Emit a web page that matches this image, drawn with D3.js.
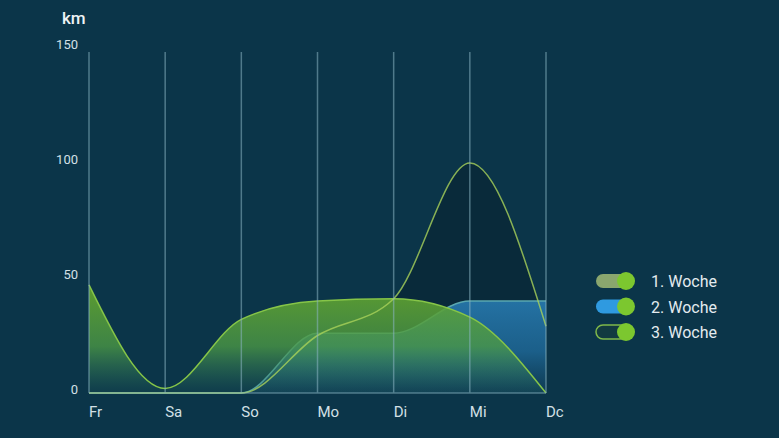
<!DOCTYPE html>
<html>
<head>
<meta charset="utf-8">
<script src="https://cdn.jsdelivr.net/npm/d3@7"></script>
<style>
  html, body { margin: 0; padding: 0; background: #0b3549; }
  svg { display: block; font-family: Roboto, "Noto Sans", sans-serif; }
</style>
</head>
<body>
<svg id="chart" width="779" height="438"></svg>
<script>
var days = ['Fr', 'Sa', 'So', 'Mo', 'Di', 'Mi', 'Dc'];
var woche1 = [47, 2, 32, 40, 41, 33, 0];
var woche2 = [0, 0, 0, 26, 26, 40, 40];
var woche3 = [0, 0, 0, 25, 41, 100, 29];
var yTicks = [0, 50, 100, 150];
var legendNames = ['1. Woche', '2. Woche', '3. Woche'];

var svg = d3.select('#chart');
var defs = svg.append('defs');

var x = d3.scalePoint().domain(days).range([89, 546]);
var y = d3.scaleLinear().domain([0, 150]).range([393, 48]);

function grad(id, stops)
{
	var g = defs.append('linearGradient')
		.attr('id', id)
		.attr('gradientUnits', 'userSpaceOnUse')
		.attr('x1', 0).attr('x2', 0)
		.attr('y1', y(45)).attr('y2', y(0));
	stops.forEach(function(s) {
		g.append('stop').attr('offset', s[0]).attr('stop-color', s[1]).attr('stop-opacity', s[2]);
	});
}
grad('g1', [[0, '#62a42e', 0.92], [0.55, '#4c9a45', 0.78], [1, '#2f7a60', 0.1]]);
grad('g2', [[0, '#2a7fb6', 1], [0.6, '#1f6a9a', 0.92], [1, '#124662', 0.7]]);

var area = d3.area()
	.x(function(d, i) { return x(days[i]); })
	.y0(y(0))
	.y1(function(d) { return y(d); })
	.curve(d3.curveMonotoneX);
var line = area.lineY1();

svg.append('path').datum(woche3).attr('d', area).attr('fill', '#0a2736').attr('fill-opacity', 0.75);

svg.append('path').datum(woche2).attr('d', area).attr('fill', 'url(#g2)').attr('opacity', 0.9);
svg.append('path').datum(woche2).attr('d', line)
	.attr('fill', 'none').attr('stroke', '#5aa8b0').attr('stroke-width', 1.5);

svg.append('path').datum(woche1).attr('d', area).attr('fill', 'url(#g1)');
svg.append('path').datum(woche1).attr('d', line)
	.attr('fill', 'none').attr('stroke', '#86c548').attr('stroke-width', 1.5);

// woche 3 only as outline, a bit faded where it crosses the other areas
svg.append('path').datum(woche3).attr('d', line)
	.attr('fill', 'none').attr('stroke', '#a9d25a').attr('stroke-width', 1.5)
	.attr('stroke-opacity', 0.8);

// grid on top of the areas
var grid = svg.append('g').attr('opacity', 0.55);
grid.selectAll('line')
	.data(days)
	.enter()
	.append('line')
		.attr('x1', function(d) { return x(d); })
		.attr('x2', function(d) { return x(d); })
		.attr('y1', 52)
		.attr('y2', y(0))
		.attr('stroke', '#8ab4c2')
		.attr('stroke-width', 1.5);
grid.append('line')
	.attr('x1', x('Fr')).attr('x2', x('Dc'))
	.attr('y1', y(0)).attr('y2', y(0))
	.attr('stroke', '#8ab4c2')
	.attr('stroke-width', 1.5);

// axes text
svg.append('g')
	.selectAll('text')
	.data(days)
	.enter()
	.append('text')
		.attr('x', function(d) { return x(d); })
		.attr('y', 417)
		.attr('fill', '#d3e0e6')
		.attr('font-size', 15)
		.text(function(d) { return d; });

svg.append('g')
	.selectAll('text')
	.data(yTicks)
	.enter()
	.append('text')
		.attr('x', 78)
		.attr('y', function(d) { return y(d) + 1; })
		.attr('text-anchor', 'end')
		.attr('fill', '#d3e0e6')
		.attr('font-size', 13)
		.text(function(d) { return d; });

svg.append('text')
	.attr('x', 62).attr('y', 24)
	.attr('fill', '#eef3f5')
	.attr('font-size', 17)
	.attr('font-weight', 500)
	.text('km');

// legend
var trackFill = ['#8aa66e', '#2f9ae0', '#123a40'];
var trackStroke = ['none', 'none', '#7fb84a'];
var leg = svg.append('g')
	.selectAll('g')
	.data(legendNames)
	.enter()
	.append('g')
		.attr('transform', function(d, i) { return 'translate(0,' + (281 + i * 25.5) + ')'; });
leg.append('rect')
	.attr('x', 596).attr('y', -7)
	.attr('width', 34).attr('height', 14)
	.attr('rx', 7)
	.attr('fill', function(d, i) { return trackFill[i]; })
	.attr('stroke', function(d, i) { return trackStroke[i]; })
	.attr('stroke-width', 1.5);
leg.append('circle')
	.attr('cx', 626).attr('cy', 0)
	.attr('r', 9)
	.attr('fill', '#7cc72f');
leg.append('text')
	.attr('x', 651).attr('y', 6)
	.attr('fill', '#e3ebef')
	.attr('font-size', 16)
	.text(function(d) { return d; });
</script>
</body>
</html>
